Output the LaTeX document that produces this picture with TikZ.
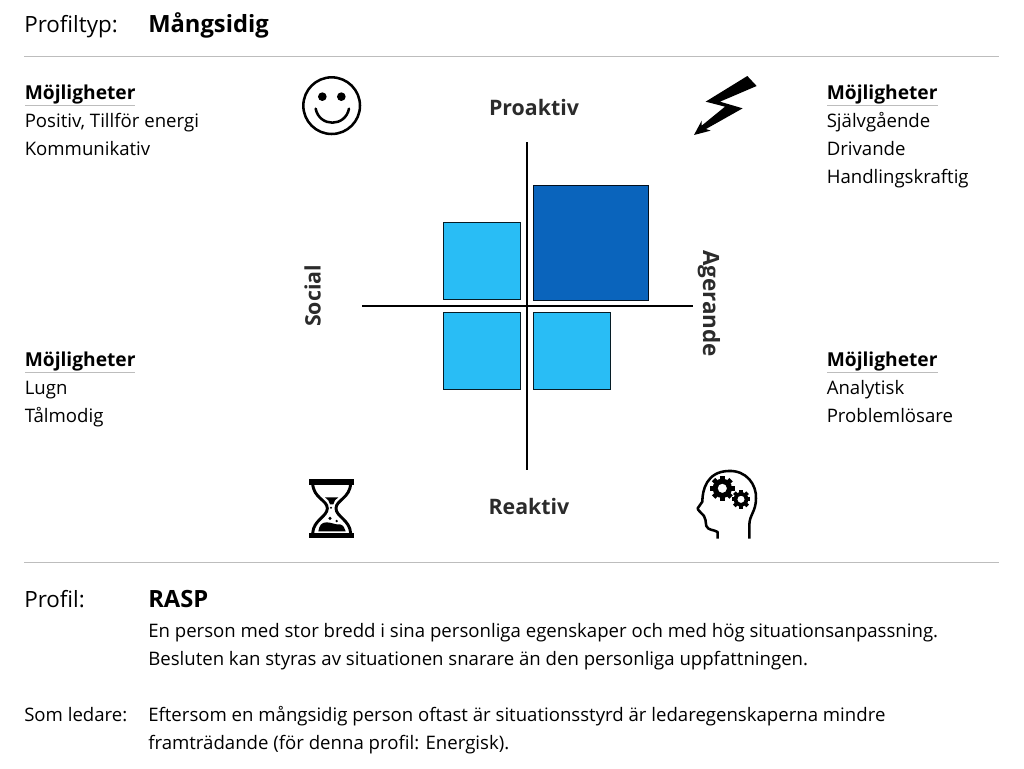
\documentclass[tikz,border=0pt]{standalone}
\usepackage{fontspec}
\setmainfont{Open Sans}
\definecolor{lightblue}{HTML}{29BDF5}
\definecolor{darkblue}{HTML}{0A64BC}
\definecolor{rulegray}{HTML}{BDBDBD}
\definecolor{axislabel}{HTML}{2B2B2B}
\tikzset{
	bodytext/.style={anchor=base west,inner sep=0pt,font=\fontsize{13.95pt}{16pt}\selectfont,text=black},
	headtext/.style={bodytext,font=\fontsize{14.4pt}{16pt}\selectfont\bfseries},
	bigtext/.style={bodytext,font=\fontsize{16.8pt}{19pt}\selectfont},
	bigbold/.style={bodytext,font=\fontsize{17.8pt}{20pt}\selectfont\bfseries},
	axistext/.style={inner sep=0pt,font=\fontsize{16pt}{19pt}\selectfont\bfseries,text=axislabel},
	sepline/.style={draw=rulegray,line width=0.6pt},
	axisline/.style={draw=black,line width=1.5pt},
	lightsq/.style={draw=black!85!lightblue,fill=lightblue,line width=0.75pt},
	darksq/.style={draw=black!85!darkblue,fill=darkblue,line width=0.75pt},
}

\begin{document}
\begin{tikzpicture}[x=0.75pt,y=0.75pt,yscale=-1,xscale=1]
	\path[use as bounding box] (0,0) rectangle (1024,768);

	%Shape: Separators
	\coordinate (septopl) at (24,56.5);
	\coordinate (septopr) at (999,56.5);
	\coordinate (sepbotl) at (24,562.5);
	\coordinate (sepbotr) at (999,562.5);
	\draw[sepline] (septopl) -- (septopr);
	\draw[sepline] (sepbotl) -- (sepbotr);

	%Shape: Squares
	\draw[darksq] (533.5,185.5) rectangle (648.5,300.5);
	\draw[lightsq] (443.5,222.5) rectangle (520.5,299.5);
	\draw[lightsq] (443.5,312.5) rectangle (520.5,389.5);
	\draw[lightsq] (533.5,312.5) rectangle (610.5,389.5);

	%Shape: Axes
	\coordinate (axtop) at (527,142);
	\coordinate (axbot) at (527,470);
	\coordinate (axleft) at (362,306);
	\coordinate (axright) at (693,306);
	\draw[axisline] (axtop) -- (axbot);
	\draw[axisline] (axleft) -- (axright);

	% Text Node
	\draw (24,32) node [bigtext] (typelabel) {Profiltyp:};
	\draw (148,32) node [bigbold] (typename) {Mångsidig};

	% Text Node
	\draw (534,107.5) node [axistext] (proaktiv) {Proaktiv};
	\draw (529,506.5) node [axistext] (reaktiv) {Reaktiv};
	\draw (312.5,296) node [axistext,rotate=90] (social) {Social};
	\draw (709,303.5) node [axistext,rotate=-90,font=\fontsize{16.8pt}{19pt}\selectfont\bfseries] (agerande) {Agerande};

	% Text Node
	\draw (24.5,99) node [headtext] (tlhead) {Möjligheter};
	\draw (24.5,127) node [bodytext] (tla) {Positiv, Tillför energi};
	\draw (24.5,155) node [bodytext] (tlb) {Kommunikativ};
	\draw[sepline] (25,105.5) -- (135,105.5);

	% Text Node
	\draw (826.5,99) node [headtext] (trhead) {Möjligheter};
	\draw (826.5,127) node [bodytext] (tra) {Självgående};
	\draw (826.5,155) node [bodytext] (trb) {Drivande};
	\draw (826.5,183) node [bodytext] (trc) {Handlingskraftig};
	\draw[sepline] (827,105.5) -- (938,105.5);

	% Text Node
	\draw (24.5,366) node [headtext] (blhead) {Möjligheter};
	\draw (24.5,394) node [bodytext] (bla) {Lugn};
	\draw (24.5,422) node [bodytext] (blb) {Tålmodig};
	\draw[sepline] (25,372.5) -- (135,372.5);

	% Text Node
	\draw (826.5,366) node [headtext] (brhead) {Möjligheter};
	\draw (826.5,394) node [bodytext] (bra) {Analytisk};
	\draw (826.5,422) node [bodytext] (brb) {Problemlösare};
	\draw[sepline] (827,372.5) -- (938,372.5);

	% Text Node
	\draw (24,607.5) node [bigtext] (proflabel) {Profil:};
	\draw (148,607.5) node [bigbold] (profname) {RASP};
	\draw (148,637) node [bodytext] (profa) {En person med stor bredd i sina personliga egenskaper och med hög situationsanpassning.};
	\draw (148,665) node [bodytext] (profb) {Besluten kan styras av situationen snarare än den personliga uppfattningen.};
	\draw (24,721) node [bodytext] (leadlabel) {Som ledare:};
	\draw (148,721) node [bodytext] (leada) {Eftersom en mångsidig person oftast är situationsstyrd är ledaregenskaperna mindre};
	\draw (148,749) node [bodytext] (leadb) {framträdande (för denna profil: Energisk).};

	%Shape: Smiley
	\begin{scope}[shift={(280,60)},scale=0.3333]
		\draw[line width=1.9pt] (155,137) circle (85);
		\fill (127,110) circle (13);
		\fill (184,110) circle (13);
		\draw[line width=1.9pt,line cap=round] (107,146) .. controls (118,202) and (196,202) .. (207,146);
	\end{scope}

	%Shape: Bolt
	\begin{scope}[shift={(670,60)},scale=0.3333]
		\fill (232,48) -- (107,125) -- (165,140) -- (95,197) -- (95,182) -- (72,225) -- (122,212) -- (108,207) -- (218,145) -- (150,125) -- (260,78) -- cycle;
	\end{scope}

	%Shape: Hourglass
	\begin{scope}[shift={(290,465)},scale=0.3333]
		\fill (58,42) rectangle (192,60);
		\fill (58,203) rectangle (192,219);
		\draw[line width=2.2pt] (68,55) .. controls (70,100) and (112,105) .. (112,130) .. controls (112,155) and (70,165) .. (68,205);
		\draw[line width=2.2pt] (182,55) .. controls (180,100) and (138,105) .. (138,130) .. controls (138,155) and (180,165) .. (182,205);
		\fill (105,97) -- (145,97) -- (135,106) -- (130,118) -- (120,118) -- (115,106) -- cycle;
		\fill (85,199) .. controls (88,180) and (95,172) .. (110,172) .. controls (125,172) and (135,180) .. (150,178) .. controls (160,180) and (165,190) .. (167,199) -- cycle;
		\fill (120,160) circle (5);
		\fill (140,168) circle (4);
		\fill (123,128) circle (3.5);
	\end{scope}

	%Shape: Head with gears
	\begin{scope}[shift={(680,460)},scale=0.3333]
		\draw[line width=1.9pt,line join=round] (113,236) -- (113,216) .. controls (100,208) and (85,212) .. (79,198) .. controls (76,185) and (78,175) .. (72,168) -- (55,150) -- (53,145) -- (67,125) .. controls (67,90) and (80,35) .. (145,33) .. controls (200,30) and (230,75) .. (228,115) .. controls (228,155) and (208,165) .. (208,195) -- (208,236);
		\foreach \gx/\gy/\gr/\gi/\gt/\gw in {127/85/29/14/10/3.6,183/118/22/11/8/2.8}{
			\fill[even odd rule] (\gx,\gy) circle (\gr) (\gx,\gy) circle (\gi);
			\foreach \ga in {0,45,...,315}
				\draw[line width=\gw pt] (\gx,\gy) ++(\ga:\gr-2) -- ++(\ga:\gt);
		}
	\end{scope}
\end{tikzpicture}
\end{document}
